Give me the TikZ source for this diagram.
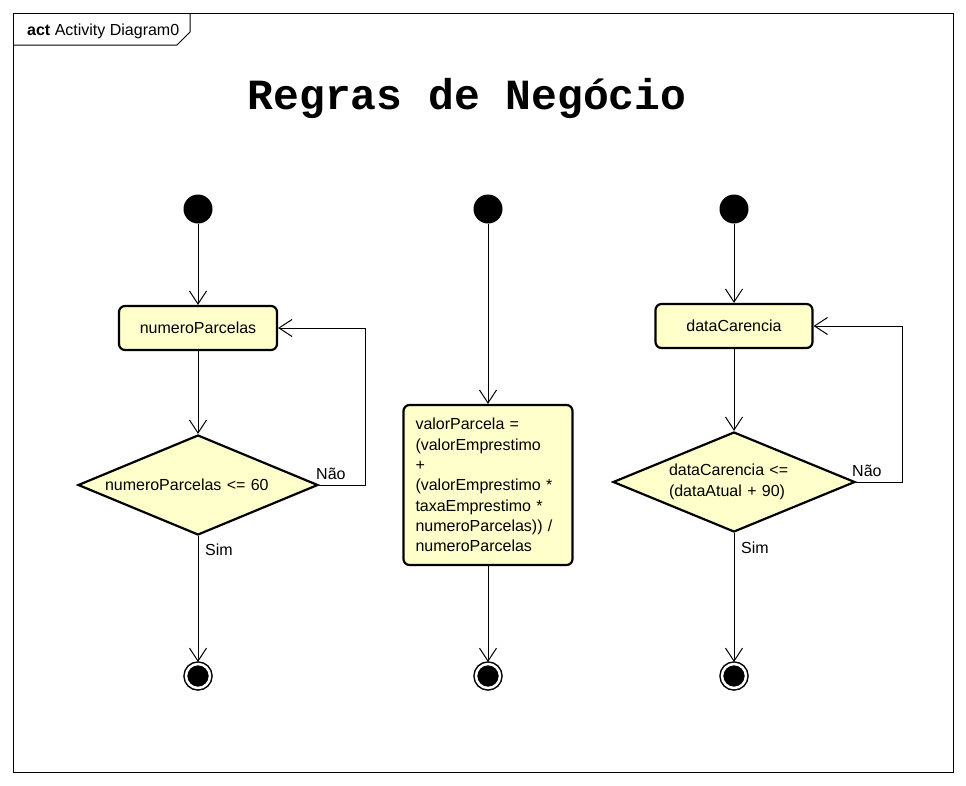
\documentclass[tikz,border=0pt]{standalone}
\usepackage{fontspec}
\setmainfont{Liberation Sans}
\newfontfamily\titlefont{Liberation Mono}
\usetikzlibrary{arrows.meta,shapes.geometric}
\definecolor{actfill}{RGB}{255,255,204}

\begin{document}
\begin{tikzpicture}[
  x=1pt, y=-1pt,
  font=\fontsize{16}{20.3}\selectfont,
  >={Straight Barb[length=13pt,width=17pt]},
  % ---- node styles ----
  startnode/.style={
    circle, fill=black, minimum size=29pt, inner sep=0pt
  },
  endnode/.style={
    circle, draw=black, fill=black, line width=1.5pt,
    double=white, double distance=2.5pt,
    minimum size=24pt, inner sep=0pt, outer sep=2pt
  },
  action/.style={
    draw=black, fill=actfill, line width=2.2pt, rounded corners=6pt,
    inner sep=0pt, align=center
  },
  decision/.style={
    diamond, draw=black, fill=actfill, line width=2.2pt,
    inner sep=0pt, aspect=2.4, align=left
  },
  flow/.style={->, line width=1pt},
  guard/.style={inner sep=0pt, anchor=west},
]
\useasboundingbox (0,0) rectangle (966,785);

% ---- Frame ----
\draw[line width=1pt] (13,13) rectangle (953,772);
\draw[line width=1pt] (13,45) -- (177,45) -- (190,32) -- (190,13);
\node[anchor=west, inner sep=0pt] (hdr) at (27,31) {\textbf{act} Activity Diagram0};

% ---- Title ----
\node[font=\titlefont\bfseries\fontsize{43}{50}\selectfont] (title) at (467,98) {Regras de Negócio};

% ---- numeroParcelas (x = 198) ----
\node[startnode] (s1) at (198,209) {};
\node[action, minimum width=158pt, minimum height=44pt] (a1) at (198,328) {numeroParcelas};
\node[decision, minimum width=240pt, minimum height=100pt, text width=186pt] (d1) at (198,485)
  {numeroParcelas <= 60};
\node[endnode] (e1) at (198,676) {};
\draw[flow] (s1) -- (a1);
\draw[flow] (a1) -- (d1);
\draw[flow] (d1.east) -- ++(46,0) |- (a1.east);
\draw[flow] (d1) -- (e1);
\node[guard] (n1) at (316,474) {Não};
\node[guard] (y1) at (205,550) {Sim};

% ---- valorParcela (x = 488) ----
\node[startnode] (s2) at (488,209) {};
\node[action, minimum width=169pt, minimum height=160pt, text width=145pt, align=left] (a2) at (488,485)
  {valorParcela =\\(valorEmprestimo\\+\\(valorEmprestimo *\\taxaEmprestimo *\\numeroParcelas)) /\\numeroParcelas};
\node[endnode] (e2) at (488,676) {};
\draw[flow] (s2) -- (a2);
\draw[flow] (a2) -- (e2);

% ---- dataCarencia (x = 734) ----
\node[startnode] (s3) at (734,209) {};
\node[action, minimum width=157pt, minimum height=44pt] (a3) at (734,326) {dataCarencia};
\node[decision, minimum width=242pt, minimum height=100pt, text width=130pt] (d3) at (734,482)
  {dataCarencia <=\\(dataAtual + 90)};
\node[endnode] (e3) at (734,676) {};
\draw[flow] (s3) -- (a3);
\draw[flow] (a3) -- (d3);
\draw[flow] (d3.east) -- ++(46,0) |- (a3.east);
\draw[flow] (d3) -- (e3);
\node[guard] (n3) at (852,471) {Não};
\node[guard] (y3) at (741,548) {Sim};

\end{tikzpicture}
\end{document}
